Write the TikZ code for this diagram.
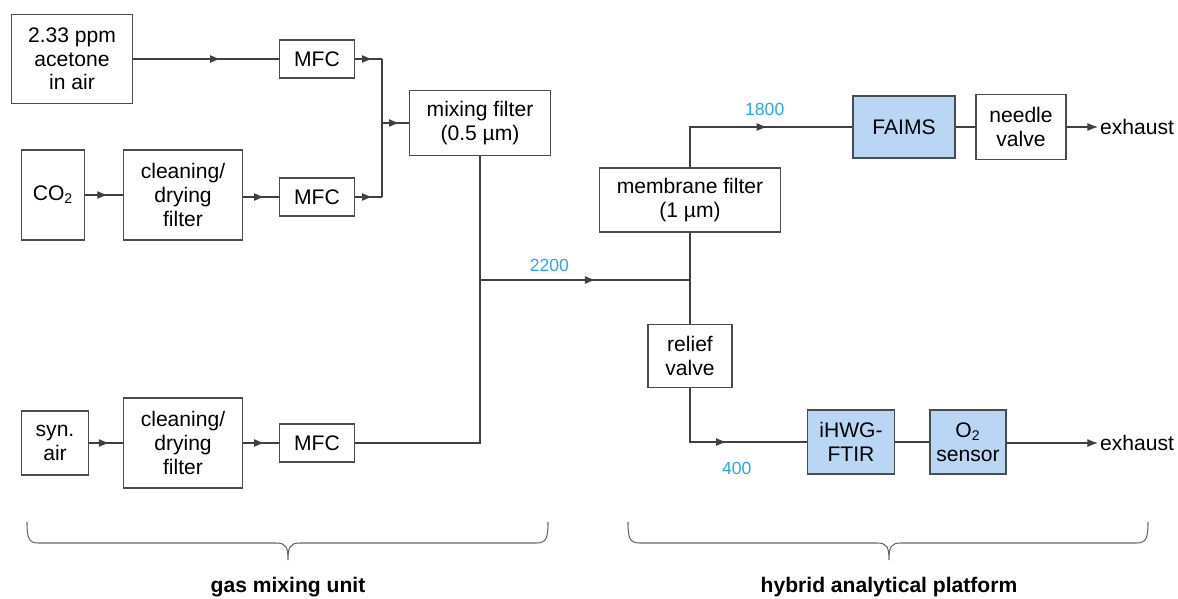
\documentclass[tikz,border=0pt]{standalone}
\usepackage{fontspec}
\setmainfont{Liberation Sans}
\usepackage{xcolor}
\usetikzlibrary{positioning,arrows.meta,decorations.markings}

\definecolor{boxblue}{RGB}{185,215,245}
\definecolor{flowblue}{RGB}{45,165,230}

\tikzset{
  box/.style={draw=black!70, line width=0.6pt, fill=white, align=center, inner sep=1pt,
    font=\fontsize{12}{13.5}\selectfont},
  bluebox/.style={box, fill=boxblue},
  pipe/.style={draw=black!75, line width=0.6pt},
  midarrow/.style={pipe, postaction={decorate}, decoration={markings,
    mark=at position #1 with {\arrow{Latex[length=6pt,width=4.5pt]}}}},
  endarrow/.style={pipe, -{Latex[length=6pt,width=4.5pt]}},
  flow/.style={text=flowblue, font=\fontsize{10}{12}\selectfont},
  plain/.style={font=\fontsize{12}{13.5}\selectfont}
}

\begin{document}
\begin{tikzpicture}[x=0.02cm, y=-0.02cm]
  \useasboundingbox (0,0) rectangle (1178,599);

  % gas sources
  \node[box, minimum width=2.42cm, minimum height=1.78cm] (acet) at (72,59) {2.33 ppm\\acetone\\in air};
  \node[box, minimum width=1.26cm, minimum height=1.8cm] (co2) at (53,195) {CO\textsubscript{2}};
  \node[box, minimum width=1.34cm, minimum height=1.28cm] (synair) at (55,443) {syn.\\air};

  % cleaning filters
  \node[box, minimum width=2.38cm, minimum height=1.8cm] (clean1) at (183,195) {cleaning/\\drying\\filter};
  \node[box, minimum width=2.38cm, minimum height=1.8cm] (clean2) at (183,443) {cleaning/\\drying\\filter};

  % mass flow controllers
  \node[box, minimum width=1.5cm, minimum height=0.76cm] (mfc1) at (317,59) {MFC};
  \node[box, minimum width=1.5cm, minimum height=0.76cm] (mfc2) at (317,197) {MFC};
  \node[box, minimum width=1.5cm, minimum height=0.76cm] (mfc3) at (317,443) {MFC};

  \node[box, minimum width=2.82cm, minimum height=1.3cm] (mix) at (480,123) {mixing filter\\(0.5 µm)};

  % analytical platform
  \node[box, minimum width=3.62cm, minimum height=1.28cm] (memb) at (690,200) {membrane filter\\(1 µm)};
  \node[box, minimum width=1.68cm, minimum height=1.26cm] (relief) at (690,356) {relief\\valve};
  \node[bluebox, minimum width=2.04cm, minimum height=1.24cm] (faims) at (904,127) {FAIMS};
  \node[box, minimum width=1.8cm, minimum height=1.3cm] (needle) at (1021,127) {needle\\valve};
  \node[bluebox, minimum width=1.74cm, minimum height=1.28cm] (ftir) at (851,442) {iHWG-\\FTIR};
  \node[bluebox, minimum width=1.52cm, minimum height=1.28cm] (otwo) at (968,442) {O\textsubscript{2}\\sensor};
  \node[plain, anchor=west, inner sep=1pt] (exh1) at (1098,127) {exhaust};
  \node[plain, anchor=west, inner sep=1pt] (exh2) at (1098,443) {exhaust};

  % junctions
  \coordinate (j1) at (382,59);
  \coordinate (j2) at (382,197);
  \coordinate (j3) at (382,123);
  \coordinate (j4) at (480,280);
  \coordinate (j5) at (690,280);

  % connectors
  \draw[midarrow=0.6] (acet.east |- mfc1) -- (mfc1);
  \draw[midarrow=0.6] (co2) -- (clean1);
  \draw[midarrow=0.6] (clean1.east |- mfc2) -- (mfc2);
  \draw[midarrow=0.6] (synair) -- (clean2);
  \draw[midarrow=0.6] (clean2.east |- mfc3) -- (mfc3);
  \draw[midarrow=0.65] (mfc1) -- (j1);
  \draw[midarrow=0.65] (mfc2) -- (j2);
  \draw[pipe] (j1) -- (j2);
  \draw[midarrow=0.65] (j3) -- (mix);
  \draw[pipe] (mfc3) -| (mix);
  \draw[midarrow=0.55] (j4) -- (j5) node[flow, pos=0.33, above=1pt] (f2200) {2200};
  \draw[pipe] (memb) -- (relief);
  \draw[midarrow=0.58] (memb) |- (faims) node[flow, pos=0.73, above=3pt] (f1800) {1800};
  \draw[midarrow=0.53] (relief) |- (ftir) node[flow, pos=0.70, below=8pt] (f400) {400};
  \draw[pipe] (faims) -- (needle);
  \draw[pipe] (ftir) -- (otwo);
  \draw[endarrow] (needle) -- (exh1);
  \draw[endarrow] (otwo.east |- exh2) -- (exh2);

  % braces
  \foreach \l/\m/\r/\t in {27/288/548/gas mixing unit, 628/889/1148/hybrid analytical platform} {
    \draw[draw=black!60, line width=0.6pt] (\l,522) .. controls (\l,539) and (\l+2,543) .. (\l+12,543)
      -- (\m-12,543) .. controls (\m-2,543) and (\m,547) .. (\m,560)
      .. controls (\m,547) and (\m+2,543) .. (\m+12,543)
      -- (\r-12,543) .. controls (\r-2,543) and (\r,539) .. (\r,522);
    \node[font=\fontsize{12}{14}\selectfont\bfseries] (lbl\m) at (\m,587) {\t};
  }
\end{tikzpicture}
\end{document}
